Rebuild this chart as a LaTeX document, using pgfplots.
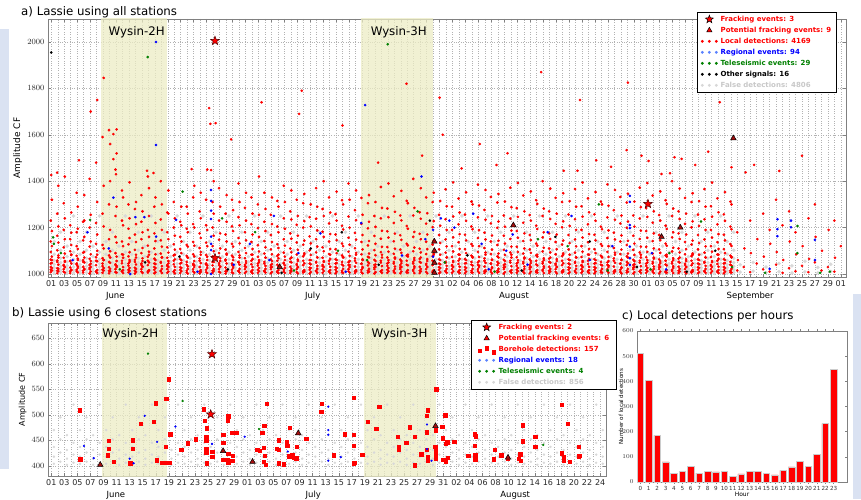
\documentclass[border=0pt]{standalone}
\usepackage{pgfplots}
\pgfplotsset{compat=1.18}
\usepackage{pgfplotstable}
\usepackage{fontspec}
\setmainfont{DejaVu Sans}
\setsansfont{DejaVu Sans}
\definecolor{shade}{RGB}{236,236,196}
\definecolor{fdet}{RGB}{216,216,216}
\definecolor{fdtext}{RGB}{200,200,200}
\definecolor{tri}{RGB}{165,15,15}
\definecolor{bgblue}{RGB}{218,226,242}
\definecolor{ltblue}{RGB}{90,130,255}
\definecolor{dgreen}{RGB}{0,128,0}

\pgfdeclareplotmark{fstar}{%
  \pgfpathmoveto{\pgfpointpolar{90}{\pgfplotmarksize}}%
  \pgfpathlineto{\pgfpointpolar{126}{0.42\pgfplotmarksize}}%
  \pgfpathlineto{\pgfpointpolar{162}{\pgfplotmarksize}}%
  \pgfpathlineto{\pgfpointpolar{198}{0.42\pgfplotmarksize}}%
  \pgfpathlineto{\pgfpointpolar{234}{\pgfplotmarksize}}%
  \pgfpathlineto{\pgfpointpolar{270}{0.42\pgfplotmarksize}}%
  \pgfpathlineto{\pgfpointpolar{306}{\pgfplotmarksize}}%
  \pgfpathlineto{\pgfpointpolar{342}{0.42\pgfplotmarksize}}%
  \pgfpathlineto{\pgfpointpolar{18}{\pgfplotmarksize}}%
  \pgfpathlineto{\pgfpointpolar{54}{0.42\pgfplotmarksize}}%
  \pgfpathclose\pgfusepathqfillstroke}

\pgfplotsset{
  base/.style={scale only axis, axis line style={black!50}, tick align=inside,
    tick style={black!50, thin}, major tick length=3pt, minor tick length=1.5pt,
    tick label style={font=\fontsize{8}{9}\selectfont, text=black!85},
    y tick label style={/pgf/number format/set thousands separator={}},
    grid style={dotted, black!30}, clip mode=individual},
  dots/.style={only marks, mark=*, mark size=#1, forget plot},
  threedots/.style={legend image code/.code={
    \fill[#1] (1.5pt,0pt) circle (1.1pt);
    \fill[#1] (8.5pt,0pt) circle (1.1pt);
    \fill[#1] (15.5pt,0pt) circle (1.1pt);}},
  legstyle/.style={legend style={draw=black, line width=0.6pt, fill=white,
    font=\fontsize{7}{8}\selectfont\bfseries, cells={anchor=west}, row sep=0pt,
    column sep=1.5pt, inner xsep=4pt, inner ysep=1.5pt,
    nodes={inner sep=1.4pt, text height=6.3pt, text depth=1.9pt}}},
}

% ---------------- panel a data ----------------
\pgfplotstableread{
x1 x2 a b c d e f g h i j k l m n o p
-0.07 0.10 1008 1030 1062 1095 1140 1230 1018 1045 1015 1048 1075 1120 1185 1320 1026 1060
0.93 1.10 1003 1025 1058 1102 1165 1260 1014 1052 1012 1040 1080 1135 1205 1380 1022 1071
1.93 2.10 1010 1036 1070 1115 1190 1305 1021 1039 1006 1052 1088 1150 1240 1420 1030 1056
2.93 3.10 1004 1028 1055 1098 1150 1210 1012 1057 1018 1045 1082 1125 1178 1265 1017 1083
3.93 4.10 1012 1040 1078 1120 1180 1350 1018 1045 1007 1033 1066 1108 1195 1290 1026 1060
4.93 5.10 1006 1031 1060 1092 1145 1225 1014 1052 1020 1050 1095 1160 1230 1340 1022 1071
5.93 6.10 1002 1026 1065 1118 1200 1410 1021 1039 1011 1044 1085 1140 1255 1700 1030 1056
6.93 7.10 1009 1038 1072 1130 1220 1480 1012 1057 1004 1055 1100 1170 1310 1750 1017 1083
7.93 8.10 1005 1034 1068 1125 1260 1590 1018 1045 1015 1060 1110 1205 1380 1845 1026 1060
8.93 9.10 1003 1029 1080 1150 1300 1620 1014 1052 1012 1048 1098 1190 1400 1560 1022 1071
9.93 10.10 1008 1042 1090 1160 1250 1450 1021 1039 1006 1035 1075 1135 1290 1520 1030 1056
10.93 11.10 1011 1046 1085 1140 1230 1360 1012 1057 1004 1030 1070 1120 1210 1330 1017 1083
11.93 12.10 1007 1036 1076 1128 1195 1300 1018 1045 1013 1052 1094 1155 1240 1395 1026 1060
12.93 13.10 1002 1027 1061 1104 1170 1280 1014 1052 1009 1041 1083 1138 1215 1310 1022 1071
13.93 14.10 1010 1045 1090 1150 1225 1340 1021 1039 1005 1032 1068 1112 1180 1270 1030 1056
14.93 15.10 1006 1038 1074 1122 1190 1420 1012 1057 1014 1050 1096 1160 1250 1370 1017 1083
15.93 16.10 1003 1030 1066 1110 1175 1290 1018 1045 1008 1043 1085 1142 1220 1330 1026 1060
16.93 17.10 1012 1048 1088 1145 1235 1400 1014 1052 1004 1034 1072 1118 1190 1300 1022 1071
17.93 18.10 1005 1035 1070 1115 1180 1265 1021 1039 1010 1046 1092 1150 1260 1360 1030 1056
18.93 19.10 1009 1042 1080 1128 1200 1310 1012 1057 1003 1031 1063 1105 1165 1240 1017 1083
19.93 20.10 1004 1029 1064 1108 1160 1225 1018 1045 1012 1048 1090 1140 1210 1290 1026 1060
20.93 21.10 1007 1040 1078 1125 1195 1290 1014 1052 1002 1033 1070 1118 1180 1260 1022 1071
21.93 22.10 1011 1044 1085 1138 1215 1330 1021 1039 1006 1038 1076 1122 1200 1380 1030 1056
22.93 23.10 1003 1030 1066 1112 1175 1270 1012 1057 1009 1047 1095 1155 1240 1350 1017 1083
23.93 24.10 1008 1041 1082 1135 1210 1320 1018 1045 1004 1036 1074 1120 1190 1450 1026 1060
24.93 25.10 1005 1037 1075 1120 1200 1310 1014 1052 1013 1052 1098 1165 1260 1400 1022 1071
25.93 26.10 1010 1046 1090 1148 1230 1370 1021 1039 1006 1032 1068 1110 1175 1290 1030 1056
26.93 27.10 1002 1028 1062 1105 1170 1260 1012 1057 1011 1045 1088 1140 1225 1340 1017 1083
27.93 28.10 1007 1039 1079 1130 1205 1320 1018 1045 1004 1034 1072 1118 1185 1275 1026 1060
28.93 29.10 1012 1050 1095 1155 1245 1390 1014 1052 1006 1040 1080 1132 1210 1310 1022 1071
29.93 30.10 1004 1033 1068 1112 1180 1285 1021 1039 1010 1047 1090 1145 1230 1350 1030 1056
30.93 31.10 1008 1042 1083 1138 1215 1330 1012 1057 1003 1030 1064 1108 1170 1260 1017 1083
31.93 32.10 1005 1036 1074 1124 1198 1300 1018 1045 1012 1051 1097 1160 1255 1420 1026 1060
32.93 33.10 1010 1045 1088 1142 1225 1350 1014 1052 1006 1035 1070 1115 1185 1280 1022 1071
33.93 34.10 1003 1029 1063 1106 1168 1255 1021 1039 1009 1043 1085 1138 1215 1330 1030 1056
34.93 35.10 1007 1040 1078 1128 1205 1315 1012 1057 1004 1033 1068 1112 1180 1290 1017 1083
35.93 36.10 1011 1048 1092 1150 1240 1380 1018 1045 1005 1037 1075 1122 1195 1310 1026 1060
36.93 37.10 1004 1031 1066 1110 1175 1270 1014 1052 1012 1050 1094 1152 1235 1360 1022 1071
37.93 38.10 1008 1043 1084 1136 1212 1320 1021 1039 1003 1029 1062 1104 1165 1250 1030 1056
38.93 39.10 1006 1038 1076 1126 1200 1305 1012 1057 1010 1046 1089 1144 1228 1345 1017 1083
39.93 40.10 1002 1027 1060 1102 1162 1245 1018 1045 1008 1042 1082 1132 1205 1300 1026 1060
40.93 41.10 1011 1049 1093 1150 1238 1370 1014 1052 1005 1035 1072 1118 1188 1290 1022 1071
41.93 42.10 1005 1034 1070 1115 1182 1280 1021 1039 1013 1052 1098 1160 1250 1400 1030 1056
42.93 43.10 1009 1044 1086 1140 1218 1330 1012 1057 1004 1031 1065 1108 1172 1265 1017 1083
43.93 44.10 1003 1030 1064 1107 1170 1258 1018 1045 1010 1047 1090 1146 1230 1355 1026 1060
44.93 45.10 1007 1041 1080 1131 1208 1318 1014 1052 1005 1036 1073 1120 1192 1300 1022 1071
45.93 46.10 1012 1051 1096 1156 1248 1390 1021 1039 1006 1039 1078 1126 1200 1320 1030 1056
46.93 47.10 1004 1032 1067 1111 1177 1275 1012 1057 1011 1048 1091 1148 1232 1360 1017 1083
47.93 48.10 1008 1043 1085 1138 1216 1328 1018 1045 1003 1030 1063 1106 1168 1255 1026 1060
48.93 49.10 1006 1037 1074 1123 1197 1305 1014 1052 1010 1046 1088 1142 1225 1340 1022 1071
49.93 50.10 1002 1028 1061 1103 1164 1250 1021 1039 1008 1041 1081 1130 1203 1310 1030 1056
50.93 51.10 1011 1049 1094 1152 1240 1375 1012 1057 1005 1034 1071 1117 1186 1285 1017 1083
51.93 52.10 1005 1035 1071 1116 1184 1282 1018 1045 1012 1050 1096 1157 1245 1390 1026 1060
52.93 53.10 1009 1045 1087 1141 1220 1335 1014 1052 1004 1032 1066 1109 1174 1268 1022 1071
53.93 54.10 1003 1029 1062 1105 1167 1252 1021 1039 1010 1047 1091 1147 1231 1358 1030 1056
54.93 55.10 1007 1040 1079 1130 1207 1315 1012 1057 1006 1037 1075 1123 1195 1305 1017 1083
55.93 56.10 1013 1052 1098 1160 1252 1410 1018 1045 1004 1033 1069 1114 1181 1285 1026 1060
56.93 57.10 1004 1031 1065 1109 1173 1266 1014 1052 1011 1049 1093 1150 1238 1370 1022 1071
57.93 58.10 1009 1044 1086 1139 1217 1330 1021 1039 1003 1030 1064 1107 1170 1262 1030 1056
58.93 59.10 1006 1038 1077 1127 1202 1310 1012 1057 1010 1046 1089 1144 1228 1350 1017 1083
59.93 60.10 1003 1029 1063 1106 1168 1255 1018 1045 1008 1042 1083 1134 1208 1315 1026 1060
60.93 61.10 1010 1048 1092 1149 1236 1365 1014 1052 1005 1035 1072 1119 1190 1292 1022 1071
61.93 62.10 1005 1036 1073 1120 1190 1290 1021 1039 1012 1051 1097 1158 1248 1395 1030 1056
62.93 63.10 1008 1043 1084 1137 1214 1325 1012 1057 1004 1031 1065 1108 1172 1265 1017 1083
63.93 64.10 1003 1030 1064 1107 1169 1256 1018 1045 1010 1047 1090 1145 1229 1352 1026 1060
64.93 65.10 1007 1040 1079 1129 1205 1312 1014 1052 1006 1037 1074 1121 1193 1300 1022 1071
65.93 66.10 1012 1050 1095 1155 1244 1385 1021 1039 1005 1036 1073 1120 1189 1295 1030 1056
66.93 67.10 1004 1032 1067 1112 1178 1276 1012 1057 1011 1048 1092 1149 1234 1362 1017 1083
67.93 68.10 1009 1044 1086 1140 1218 1332 1018 1045 1003 1029 1062 1105 1166 1250 1026 1060
68.93 69.10 1006 1038 1076 1125 1199 1308 1014 1052 1010 1046 1088 1143 1226 1345 1022 1071
69.93 70.10 1002 1028 1061 1104 1165 1252 1021 1039 1008 1042 1082 1131 1204 1312 1030 1056
70.93 71.10 1011 1049 1093 1151 1239 1372 1012 1057 1005 1034 1071 1118 1187 1288 1017 1083
71.93 72.10 1005 1035 1072 1117 1185 1284 1018 1045 1012 1050 1095 1156 1246 1392 1026 1060
72.93 73.10 1009 1045 1088 1142 1221 1338 1014 1052 1004 1032 1066 1110 1175 1270 1022 1071
73.93 74.10 1003 1029 1063 1106 1168 1254 1021 1039 1010 1047 1091 1146 1230 1356 1030 1056
74.93 75.10 1007 1041 1080 1131 1208 1318 1012 1057 1006 1037 1075 1122 1194 1302 1017 1083
75.93 76.10 1013 1052 1097 1158 1250 1400 1018 1045 1004 1033 1068 1113 1180 1282 1026 1060
76.93 77.10 1004 1031 1066 1110 1175 1270 1014 1052 1011 1049 1093 1151 1237 1368 1022 1071
77.93 78.10 1009 1044 1085 1138 1216 1328 1021 1039 1003 1030 1064 1107 1170 1260 1030 1056
78.93 79.10 1006 1038 1077 1127 1201 1310 1012 1057 1010 1046 1089 1144 1227 1348 1017 1083
79.93 80.10 1003 1029 1063 1106 1168 1256 1018 1045 1008 1042 1083 1133 1207 1314 1026 1060
80.93 81.10 1010 1048 1092 1149 1236 1366 1014 1052 1005 1035 1072 1119 1190 1290 1022 1071
81.93 82.10 1005 1036 1073 1120 1190 1292 1021 1039 1012 1051 1096 1157 1247 1394 1030 1056
82.93 83.10 1008 1043 1084 1137 1214 1326 1012 1057 1004 1031 1065 1108 1172 1266 1017 1083
83.93 84.10 1003 1030 1064 1107 1169 1257 1018 1045 1010 1047 1090 1145 1229 1353 1026 1060
84.93 85.10 1007 1040 1079 1129 1204 1312 1014 1052 1006 1037 1074 1121 1193 1300 1022 1071
85.93 86.10 1012 1050 1095 1155 1244 1386 1021 1039 1005 1036 1073 1120 1188 1294 1030 1056
86.93 87.10 1004 1032 1067 1112 1178 1275 1012 1057 1011 1048 1092 1149 1234 1362 1017 1083
87.93 88.10 1009 1044 1086 1140 1218 1332 1018 1045 1003 1029 1062 1105 1166 1252 1026 1060
88.93 89.10 1006 1038 1076 1125 1199 1308 1014 1052 1010 1046 1088 1143 1226 1346 1022 1071
89.93 90.10 1002 1028 1061 1104 1165 1252 1021 1039 1008 1042 1082 1131 1204 1312 1030 1056
90.93 91.10 1011 1049 1093 1151 1239 1372 1012 1057 1005 1034 1071 1118 1187 1288 1017 1083
91.93 92.10 1005 1035 1072 1117 1185 1284 1018 1045 1012 1050 1095 1156 1246 1392 1026 1060
92.93 93.10 1009 1045 1088 1142 1221 1338 1014 1052 1004 1032 1066 1110 1175 1270 1022 1071
93.93 94.10 1003 1029 1063 1106 1168 1254 1021 1039 1010 1047 1091 1146 1230 1356 1030 1056
94.93 95.10 1007 1041 1080 1131 1208 1318 1012 1057 1006 1037 1075 1122 1194 1302 1017 1083
95.93 96.10 1013 1052 1097 1158 1250 1400 1018 1045 1004 1033 1068 1113 1180 1282 1026 1060
96.93 97.10 1004 1031 1066 1110 1175 1270 1014 1052 1011 1049 1093 1151 1237 1368 1022 1071
97.93 98.10 1009 1044 1085 1138 1216 1328 1021 1039 1003 1030 1064 1107 1170 1260 1030 1056
98.93 99.10 1006 1038 1077 1127 1201 1310 1012 1057 1010 1046 1089 1144 1227 1348 1017 1083
99.93 100.10 1003 1029 1063 1106 1168 1256 1018 1045 1008 1042 1083 1133 1207 1314 1026 1060
100.93 101.10 1010 1048 1092 1149 1236 1366 1014 1052 1005 1035 1072 1119 1190 1290 1022 1071
101.93 102.10 1005 1036 1073 1120 1190 1292 1021 1039 1012 1051 1096 1157 1247 1394 1030 1056
102.93 103.10 1008 1043 1084 1137 1214 1326 1012 1057 1004 1031 1065 1108 1172 1266 1017 1083
103.93 104.10 1003 1030 1064 1107 1169 1257 1018 1045 1010 1047 1090 1145 1229 1353 1026 1060
104.93 105.10 1007 1040 1079 1129 1204 1312 1014 1052 1006 1037 1074 1121 1193 1300 1022 1071
}\redA

\pgfplotstableread{
x y
106.0 1015
106.1 1060
106.0 1180
107.0 1030
107.1 1110
107.3 1438
108.0 1008
108.1 1090
108.0 1230
108.6 1470
109.0 1045
109.1 1150
110.0 1020
110.1 1075
110.0 1260
111.0 1010
111.1 1130
111.0 1190
112.0 1040
112.1 1095
112.5 1444
112.0 1320
113.0 1005
113.1 1060
113.0 1210
114.0 1025
114.1 1140
114.0 1270
115.0 1012
115.1 1085
115.0 1180
116.0 1035
116.1 1120
116.0 1510
117.0 1008
117.1 1065
117.0 1240
118.0 1050
118.1 1160
118.0 1300
119.0 1015
119.1 1100
120.0 1030
120.1 1190
121.0 1010
121.1 1070
121.0 1230
122.0 1120
9.6 1495
10.0 1430
24.6 1647
24.7 1448
14.8 1445
15.8 1435
21.7 1452
0.9 1437
0.0 1427
88.9 1534
91.2 1510
92.3 1487
96.3 1503
97.4 1496
101.5 1527
79.2 1445
81.3 1445
105.1 1460
94.3 1431
95.6 1434
24.4 1715
25.4 1650
32.5 1740
38.7 1790
38.3 1690
54.9 1820
60.0 1760
75.7 1870
81.7 1750
89.1 1825
103.3 1740
60.5 1600
66.2 1560
45.0 1640
70.5 1520
27.8 1580
4.3 1490
10.1 1623
9.6 1603
50.5 1480
57.3 1510
63.4 1455
68.8 1470
84.2 1490
86.5 1462
99.5 1470
}\redB

\pgfplotstableread{
x a b c d e f g
0.45 1003 1014 1027 1041 1058 1085 1140
1.45 1006 1018 1033 1049 1068 1102 1180
2.45 1002 1011 1022 1036 1052 1075 1120
3.45 1005 1016 1030 1045 1063 1094 1250
4.45 1003 1014 1027 1041 1058 1085 1140
5.45 1006 1018 1033 1049 1068 1102 1180
6.45 1002 1011 1022 1036 1052 1075 1120
7.45 1005 1016 1030 1045 1063 1094 1250
8.45 1003 1014 1027 1041 1058 1085 1140
9.45 1006 1018 1033 1049 1068 1102 1180
10.45 1002 1011 1022 1036 1052 1075 1120
11.45 1005 1016 1030 1045 1063 1094 1250
12.45 1003 1014 1027 1041 1058 1085 1140
13.45 1006 1018 1033 1049 1068 1102 1180
14.45 1002 1011 1022 1036 1052 1075 1120
15.45 1005 1016 1030 1045 1063 1094 1250
16.45 1003 1014 1027 1041 1058 1085 1140
17.45 1006 1018 1033 1049 1068 1102 1180
18.45 1002 1011 1022 1036 1052 1075 1120
19.45 1005 1016 1030 1045 1063 1094 1250
20.45 1003 1014 1027 1041 1058 1085 1140
21.45 1006 1018 1033 1049 1068 1102 1180
22.45 1002 1011 1022 1036 1052 1075 1120
23.45 1005 1016 1030 1045 1063 1094 1250
24.45 1003 1014 1027 1041 1058 1085 1140
25.45 1006 1018 1033 1049 1068 1102 1180
26.45 1002 1011 1022 1036 1052 1075 1120
27.45 1005 1016 1030 1045 1063 1094 1250
28.45 1003 1014 1027 1041 1058 1085 1140
29.45 1006 1018 1033 1049 1068 1102 1180
30.45 1002 1011 1022 1036 1052 1075 1120
31.45 1005 1016 1030 1045 1063 1094 1250
32.45 1003 1014 1027 1041 1058 1085 1140
33.45 1006 1018 1033 1049 1068 1102 1180
34.45 1002 1011 1022 1036 1052 1075 1120
35.45 1005 1016 1030 1045 1063 1094 1250
36.45 1003 1014 1027 1041 1058 1085 1140
37.45 1006 1018 1033 1049 1068 1102 1180
38.45 1002 1011 1022 1036 1052 1075 1120
39.45 1005 1016 1030 1045 1063 1094 1250
40.45 1003 1014 1027 1041 1058 1085 1140
41.45 1006 1018 1033 1049 1068 1102 1180
42.45 1002 1011 1022 1036 1052 1075 1120
43.45 1005 1016 1030 1045 1063 1094 1250
44.45 1003 1014 1027 1041 1058 1085 1140
45.45 1006 1018 1033 1049 1068 1102 1180
46.45 1002 1011 1022 1036 1052 1075 1120
47.45 1005 1016 1030 1045 1063 1094 1250
48.45 1003 1014 1027 1041 1058 1085 1140
49.45 1006 1018 1033 1049 1068 1102 1180
50.45 1002 1011 1022 1036 1052 1075 1120
51.45 1005 1016 1030 1045 1063 1094 1250
52.45 1003 1014 1027 1041 1058 1085 1140
53.45 1006 1018 1033 1049 1068 1102 1180
54.45 1002 1011 1022 1036 1052 1075 1120
55.45 1005 1016 1030 1045 1063 1094 1250
56.45 1003 1014 1027 1041 1058 1085 1140
57.45 1006 1018 1033 1049 1068 1102 1180
58.45 1002 1011 1022 1036 1052 1075 1120
59.45 1005 1016 1030 1045 1063 1094 1250
60.45 1003 1014 1027 1041 1058 1085 1140
61.45 1006 1018 1033 1049 1068 1102 1180
62.45 1002 1011 1022 1036 1052 1075 1120
63.45 1005 1016 1030 1045 1063 1094 1250
64.45 1003 1014 1027 1041 1058 1085 1140
65.45 1006 1018 1033 1049 1068 1102 1180
66.45 1002 1011 1022 1036 1052 1075 1120
67.45 1005 1016 1030 1045 1063 1094 1250
68.45 1003 1014 1027 1041 1058 1085 1140
69.45 1006 1018 1033 1049 1068 1102 1180
70.45 1002 1011 1022 1036 1052 1075 1120
71.45 1005 1016 1030 1045 1063 1094 1250
72.45 1003 1014 1027 1041 1058 1085 1140
73.45 1006 1018 1033 1049 1068 1102 1180
74.45 1002 1011 1022 1036 1052 1075 1120
75.45 1005 1016 1030 1045 1063 1094 1250
76.45 1003 1014 1027 1041 1058 1085 1140
77.45 1006 1018 1033 1049 1068 1102 1180
78.45 1002 1011 1022 1036 1052 1075 1120
79.45 1005 1016 1030 1045 1063 1094 1250
80.45 1003 1014 1027 1041 1058 1085 1140
81.45 1006 1018 1033 1049 1068 1102 1180
82.45 1002 1011 1022 1036 1052 1075 1120
83.45 1005 1016 1030 1045 1063 1094 1250
84.45 1003 1014 1027 1041 1058 1085 1140
85.45 1006 1018 1033 1049 1068 1102 1180
86.45 1002 1011 1022 1036 1052 1075 1120
87.45 1005 1016 1030 1045 1063 1094 1250
88.45 1003 1014 1027 1041 1058 1085 1140
89.45 1006 1018 1033 1049 1068 1102 1180
90.45 1002 1011 1022 1036 1052 1075 1120
91.45 1005 1016 1030 1045 1063 1094 1250
92.45 1003 1014 1027 1041 1058 1085 1140
93.45 1006 1018 1033 1049 1068 1102 1180
94.45 1002 1011 1022 1036 1052 1075 1120
95.45 1005 1016 1030 1045 1063 1094 1250
96.45 1003 1014 1027 1041 1058 1085 1140
97.45 1006 1018 1033 1049 1068 1102 1180
98.45 1002 1011 1022 1036 1052 1075 1120
99.45 1005 1016 1030 1045 1063 1094 1250
100.45 1003 1014 1027 1041 1058 1085 1140
101.45 1006 1018 1033 1049 1068 1102 1180
102.45 1002 1011 1022 1036 1052 1075 1120
103.45 1005 1016 1030 1045 1063 1094 1250
104.45 1003 1014 1027 1041 1058 1085 1140
105.45 1006 1018 1033 1049 1068 1102 1180
106.45 1008 1040 nan nan nan nan nan
108.45 1012 1050 nan nan nan nan nan
110.45 1006 1030 nan nan nan nan nan
112.45 1010 1045 nan nan nan nan nan
114.45 1004 1035 nan nan nan nan nan
116.45 1009 1055 nan nan nan nan nan
118.45 1005 1028 nan nan nan nan nan
120.45 1011 1042 nan nan nan nan nan
}\greyA

\pgfplotstableread{
x y
16.2 2000
16.2 1556
9.6 1329
14.4 1245
16.2 1161
19.3 1233
24.7 1362
24.7 1315
24.7 1273
24.7 1237
24.7 1161
24.7 1130
24.7 1103
24.7 1000
8.9 1110
12.2 1000
13.0 1245
89.4 1337
89.4 1311
89.4 1211
89.4 1198
89.4 1118
89.4 1068
89.4 1039
112.2 1236
112.2 1193
112.2 1163
114.3 1230
114.3 1201
118.0 1147
118.0 1060
111.0 1022
57.8 1150
54.2 1080
61.5 1230
62.3 1200
66.5 1130
70.3 1100
73.6 1040
76.7 1180
80.4 1250
83.2 1060
86.7 1120
45.5 1010
47.9 1220
41.6 1175
38.2 1090
34.4 1250
33.7 1060
30.7 1130
28.2 1040
22.6 1010
5.6 1180
3.3 1060
48.5 1728
57.2 1420
67.6 1020
71.3 1170
92.8 1090
95.0 1020
59.0 1190
59.0 1075
60.2 1240
65.2 1260
}\blueA

\pgfplotstableread{
x y
14.9 1935
52.0 1990
0.3 1158
0.4 1130
6.0 1233
20.3 1355
84.6 1300
100.4 1226
115.3 1207
115.3 1090
118.8 1005
37.5 1015
44.3 1100
60.8 1050
68.5 1010
75.2 1150
92.6 1020
95.5 1090
105.2 1030
110.3 1005
120.3 1010
10.6 1020
26.4 1240
31.5 1180
56.6 1270
79.8 1120
1.5 1090
48.8 1060
86.0 1015
}\greenA

\pgfplotstableread{
x y
0.0 1955
83.2 1140
14.5 1050
27.3 1020
40.1 1110
50.6 1040
58.5 1230
35.6 1005
64.3 1080
72.7 1015
77.9 1160
90.5 1030
98.2 1010
102.6 1100
19.8 1075
44.9 1180
}\blackA

% ---------------- panel b data ----------------
\pgfplotstableread{
x y
4.33 509
4.44 413
8.77 449
8.77 433
8.60 421
9.53 408
12.10 405
12.44 450
12.44 433
13.72 482
15.65 486
15.96 523
16.17 411
16.90 406
17.60 531
17.50 437
17.45 406
17.95 570
18.20 462
18.10 406
19.90 431
20.90 444
22.10 452
23.30 511
23.45 488
23.80 474
23.70 457
23.70 450
23.70 433
23.70 426
23.80 405
24.60 428
24.60 418
26.30 461
26.30 445
26.30 412
27.10 497
27.00 488
27.10 424
27.00 412
27.10 406
27.70 465
27.80 420
27.70 410
28.40 465
31.50 432
31.90 430
32.30 465
32.50 435
32.60 479
32.70 420
32.50 408
32.80 402
33.00 522
34.80 450
34.50 433
34.80 432
34.80 405
35.60 403
36.05 446
36.10 440
36.50 475
36.40 419
36.90 421
37.10 416
37.50 415
37.60 438
39.00 453
41.40 522
41.30 506
43.25 421
44.90 462
46.25 533
46.25 461
46.25 440
46.35 406
46.25 404
47.60 422
48.45 486
49.70 473
50.20 516
53.00 457
53.20 438
53.20 432
54.30 445
54.90 476
55.60 457
55.60 401
56.60 423
57.50 498
57.60 509
57.50 466
57.50 431
57.60 417
57.60 412
57.60 410
58.90 550
58.80 470
58.75 438
58.80 430
58.80 426
58.80 420
58.80 415
59.80 477
59.90 454
60.30 499
60.40 443
60.60 446
60.00 412
60.30 412
60.40 408
60.70 416
61.65 447
63.80 420
64.80 462
65.00 458
64.80 440
64.90 422
65.00 416
64.90 413
67.70 413
67.90 431
68.85 421
69.90 414
71.75 423
71.50 414
71.80 410
72.15 480
72.15 448
74.05 457
74.05 438
78.10 520
78.10 425
78.40 417
78.40 410
79.00 483
79.30 408
80.70 438
80.70 419
80.90 420
}\boreB

\pgfplotstableread{
x a b c d
0.4 404 418 437 470
1.4 408 426 452 495
2.4 402 414 431 460
3.4 406 422 445 520
4.4 404 418 437 470
5.4 408 426 452 495
6.4 402 414 431 460
7.4 406 422 445 520
8.4 404 418 437 470
9.4 408 426 452 495
10.4 402 414 431 460
11.4 406 422 445 520
12.4 404 418 437 470
13.4 408 426 452 495
14.4 402 414 431 460
15.4 406 422 445 520
16.4 404 418 437 470
17.4 408 426 452 495
18.4 402 414 431 460
19.4 406 422 445 520
20.4 404 418 437 470
21.4 408 426 452 495
22.4 402 414 431 460
23.4 406 422 445 520
24.4 404 418 437 470
25.4 408 426 452 495
26.4 402 414 431 460
27.4 406 422 445 520
28.4 404 418 437 470
29.4 408 426 452 495
30.4 402 414 431 460
31.4 406 422 445 520
32.4 404 418 437 470
33.4 408 426 452 495
34.4 402 414 431 460
35.4 406 422 445 520
36.4 404 418 437 470
37.4 408 426 452 495
38.4 402 414 431 460
39.4 406 422 445 520
40.4 404 418 437 470
41.4 408 426 452 495
42.4 402 414 431 460
43.4 406 422 445 520
44.4 404 418 437 470
45.4 408 426 452 495
46.4 402 414 431 460
47.4 406 422 445 520
48.4 404 418 437 470
49.4 408 426 452 495
50.4 402 414 431 460
51.4 406 422 445 520
52.4 404 418 437 470
53.4 408 426 452 495
54.4 402 414 431 460
55.4 406 422 445 520
56.4 404 418 437 470
57.4 408 426 452 495
58.4 402 414 431 460
59.4 406 422 445 520
60.4 404 418 437 470
61.4 408 426 452 495
62.4 402 414 431 460
63.4 406 422 445 520
64.4 404 418 437 470
65.4 408 426 452 495
66.4 402 414 431 460
67.4 406 422 445 520
68.4 404 418 437 470
69.4 408 426 452 495
70.4 402 414 431 460
71.4 406 422 445 520
72.4 404 418 437 470
73.4 408 426 452 495
74.4 402 414 431 460
75.4 406 422 445 520
76.4 404 418 437 470
77.4 408 426 452 495
78.4 402 414 431 460
79.4 406 422 445 520
80.4 404 418 437 470
81.4 408 426 452 495
82.4 402 414 431 460
83.4 406 422 445 520
84.4 404 418 437 470
}\greyB

\begin{document}
\begin{tikzpicture}[x=1pt,y=1pt]
\useasboundingbox (0,0) rectangle (861,499);
% decorative slide background
\fill[bgblue] (0,30) rectangle (9,470);
\fill[bgblue] (853,0) rectangle (861,205);

% titles
\node[anchor=west, font=\fontsize{11.8}{14}\selectfont, inner sep=0pt] at (21,487) {a) Lassie using all stations};
\node[anchor=west, font=\fontsize{11.8}{14}\selectfont, inner sep=0pt] at (12,185.5) {b) Lassie using 6 closest stations};
\node[anchor=west, font=\fontsize{11.8}{14}\selectfont, inner sep=0pt] at (622,182.5) {c) Local detections per hours};

% ================= panel a =================
\begin{axis}[base, legstyle, at={(48pt,480pt)}, anchor=north west, width=798pt, height=258pt,
  xmin=-0.5, xmax=122.8, ymin=987, ymax=2099,
  xtick={0,2,...,122},
  xticklabels={01,03,05,07,09,11,13,15,17,19,21,23,25,27,29,01,03,05,07,09,11,13,15,17,19,21,23,25,27,29,31,02,04,06,08,10,12,14,16,18,20,22,24,26,28,30,01,03,05,07,09,11,13,15,17,19,21,23,25,27,29,01},
  minor x tick num=1, xmajorgrids, xminorgrids,
  ytick={1000,1200,...,2000}, ymajorgrids,
  ylabel={Amplitude CF},
  ylabel style={font=\fontsize{9}{10}\selectfont, at={(axis description cs:-0.038,0.5)}, anchor=center},
  legend style={at={(0.9887,1.027)}, anchor=north east}]
\addplot[fill=shade, draw=none, fill opacity=0.75, forget plot] coordinates {(7.65,980) (17.85,980) (17.85,2110) (7.65,2110)} --cycle;
\addplot[fill=shade, draw=none, fill opacity=0.75, forget plot] coordinates {(47.9,980) (58.95,980) (58.95,2110) (47.9,2110)} --cycle;
\node[font=\fontsize{11.8}{14}\selectfont] at (axis cs:13.2,2042) {Wysin-2H};
\node[font=\fontsize{11.8}{14}\selectfont] at (axis cs:53.7,2042) {Wysin-3H};
\pgfplotsinvokeforeach{a,b,c,d,e,f,g}{\addplot[dots=1.6pt, color=fdet] table[x=x,y=#1]{\greyA};}
\pgfplotsinvokeforeach{a,b,c,d,e,f,g,h}{\addplot[dots=1.15pt, color=red] table[x=x1,y=#1]{\redA};}
\pgfplotsinvokeforeach{i,j,k,l,m,n,o,p}{\addplot[dots=1.15pt, color=red] table[x=x2,y=#1]{\redA};}
\addplot[dots=1.1pt, color=red] table[x=x,y=y]{\redB};
\addplot[dots=1.1pt, color=blue] table[x=x,y=y]{\blueA};
\addplot[dots=1.1pt, color=dgreen] table[x=x,y=y]{\greenA};
\addplot[dots=1.1pt, color=black] table[x=x,y=y]{\blackA};
\addplot[only marks, mark=triangle*, mark size=3.2pt, mark options={fill=tri, draw=black, line width=0.5pt}, forget plot] coordinates {(35.3,1030) (59.2,1140) (59.2,1100) (59.2,1048) (59.2,1005) (71.4,1210) (94.3,1160) (97.2,1200) (105.4,1585)};
\addplot[only marks, mark=fstar, mark size=4.6pt, mark options={fill=red, draw=black!70!red, line width=0.5pt}, forget plot] coordinates {(25.3,2005) (25.3,1069) (92.2,1302)};
\node[font=\fontsize{8.5}{10}\selectfont, anchor=north] at (axis cs:9.9,987) [yshift=-12pt] {June};
\node[font=\fontsize{8.5}{10}\selectfont, anchor=north] at (axis cs:40.4,987) [yshift=-12pt] {July};
\node[font=\fontsize{8.5}{10}\selectfont, anchor=north] at (axis cs:71.5,987) [yshift=-12pt] {August};
\node[font=\fontsize{8.5}{10}\selectfont, anchor=north] at (axis cs:108,987) [yshift=-12pt] {September};
\addlegendimage{only marks, mark=fstar, mark size=4.2pt, mark options={fill=red, draw=black, line width=0.5pt}}
\addlegendentry{\textcolor{red}{Fracking events: 3}}
\addlegendimage{only marks, mark=triangle*, mark size=3pt, mark options={fill=red, draw=black, line width=0.5pt}}
\addlegendentry{\textcolor{red}{Potential fracking events: 9}}
\addlegendimage{threedots=red}
\addlegendentry{\textcolor{red}{Local detections: 4169}}
\addlegendimage{threedots=ltblue}
\addlegendentry{\textcolor{blue}{Regional events: 94}}
\addlegendimage{threedots=dgreen}
\addlegendentry{\textcolor{dgreen}{Teleseismic events: 29}}
\addlegendimage{threedots=black}
\addlegendentry{\textcolor{black}{Other signals: 16}}
\addlegendimage{threedots=fdet}
\addlegendentry{\textcolor{fdtext}{False detections: 4806}}
\end{axis}

% ================= panel b =================
\begin{axis}[base, legstyle, at={(48pt,176pt)}, anchor=north west, width=558pt, height=153pt,
  xmin=-0.5, xmax=84.9, ymin=380, ymax=680,
  xtick={0,2,...,84},
  xticklabels={01,03,05,07,09,11,13,15,17,19,21,23,25,27,29,01,03,05,07,09,11,13,15,17,19,21,23,25,27,29,31,02,04,06,08,10,12,14,16,18,20,22,24},
  minor x tick num=1, xmajorgrids, xminorgrids,
  ytick={400,450,...,650}, ymajorgrids,
  ylabel={Amplitude CF},
  ylabel style={font=\fontsize{8}{9}\selectfont, at={(axis description cs:-0.0453,0.5)}, anchor=center},
  legend style={at={(1.0197,1.0196)}, anchor=north east, inner xsep=6pt}]
\addplot[fill=shade, draw=none, fill opacity=0.75, forget plot] coordinates {(7.75,370) (17.7,370) (17.7,690) (7.75,690)} --cycle;
\addplot[fill=shade, draw=none, fill opacity=0.75, forget plot] coordinates {(47.8,370) (58.9,370) (58.9,690) (47.8,690)} --cycle;
\node[font=\fontsize{11.8}{14}\selectfont] at (axis cs:12.1,657) {Wysin-2H};
\node[font=\fontsize{11.8}{14}\selectfont] at (axis cs:53.3,657) {Wysin-3H};
\pgfplotsinvokeforeach{a,b,c,d}{\addplot[dots=1pt, color=fdet] table[x=x,y=#1]{\greyB};}
\addplot[only marks, mark=square*, mark size=1.7pt, color=red, forget plot] table[x=x,y=y]{\boreB};
\addplot[dots=0.9pt, color=blue] coordinates {(5.0,439) (6.5,415) (14.3,498) (12.0,414) (16.2,447) (19.0,477) (24.6,443) (29.6,457) (36.2,428) (42.4,516) (42.4,470) (42.4,461) (42.4,410) (44.3,417) (57.5,481) (57.5,433) (58.2,410) (12.6,405)};
\addplot[dots=0.9pt, color=dgreen] coordinates {(14.8,620) (20.1,527) (31.8,472) (75.3,441)};
\addplot[only marks, mark=triangle*, mark size=3.2pt, mark options={fill=tri, draw=black, line width=0.5pt}, forget plot] coordinates {(7.5,402) (26.3,429) (30.8,408) (37.8,464) (58.8,478) (69.9,416)};
\addplot[only marks, mark=fstar, mark size=4.6pt, mark options={fill=red, draw=black!70!red, line width=0.5pt}, forget plot] coordinates {(24.6,619) (24.4,501)};
\node[font=\fontsize{8.5}{10}\selectfont, anchor=north] at (axis cs:9.9,380) [yshift=-12pt] {June};
\node[font=\fontsize{8.5}{10}\selectfont, anchor=north] at (axis cs:40.1,380) [yshift=-12pt] {July};
\node[font=\fontsize{8.5}{10}\selectfont, anchor=north] at (axis cs:71.0,380) [yshift=-12pt] {August};
\addlegendimage{only marks, mark=fstar, mark size=4.2pt, mark options={fill=red, draw=black, line width=0.5pt}}
\addlegendentry{\textcolor{red}{Fracking events: 2}}
\addlegendimage{only marks, mark=triangle*, mark size=3pt, mark options={fill=red, draw=black, line width=0.5pt}}
\addlegendentry{\textcolor{red}{Potential fracking events: 6}\hspace{14pt}}
\addlegendimage{legend image code/.code={
  \fill[red] (-0.3pt,-3.4pt) rectangle (3.3pt,0.2pt);
  \fill[red] (6.7pt,-0.8pt) rectangle (10.3pt,2.8pt);
  \fill[red] (13.7pt,-4.6pt) rectangle (17.3pt,-1pt);}}
\addlegendentry{\textcolor{red}{Borehole detections: 157}}
\addlegendimage{threedots=ltblue}
\addlegendentry{\textcolor{blue}{Regional events: 18}}
\addlegendimage{threedots=dgreen}
\addlegendentry{\textcolor{dgreen}{Teleseismic events: 4}}
\addlegendimage{threedots=fdet}
\addlegendentry{\textcolor{fdtext}{False detections: 856}}
\end{axis}

% ================= panel c =================
\begin{axis}[base, at={(637pt,168pt)}, anchor=north west, width=210pt, height=151pt,
  xmin=0, xmax=25, ymin=0, ymax=600, ybar, bar width=0.8,
  xtick={0.4,1.4,2.4,3.4,4.4,5.4,6.4,7.4,8.4,9.4,10.4,11.4,12.4,13.4,14.4,15.4,16.4,17.4,18.4,19.4,20.4,21.4,22.4,23.4},
  xticklabels={0,1,2,3,4,5,6,7,8,9,10,11,12,13,14,15,16,17,18,19,20,21,22,23},
  ytick={0,100,...,600},
  tick label style={font=\fontsize{5.6}{6}\selectfont, text=black!80},
  x tick label style={yshift=1.5pt},
  major tick length=2pt,
  xlabel={Hour}, ylabel={Number of local detections},
  xlabel style={font=\fontsize{6}{7}\selectfont, at={(axis description cs:0.5,-0.082)}, anchor=center},
  ylabel style={font=\fontsize{5.6}{7}\selectfont, at={(axis description cs:-0.076,0.5)}, anchor=center}]
\addplot[fill=red, draw=black!20, line width=0.5pt] coordinates {(0.4,510) (1.4,405) (2.4,185) (3.4,80) (4.4,35) (5.4,42) (6.4,63) (7.4,35) (8.4,42) (9.4,40) (10.4,41) (11.4,22) (12.4,32) (13.4,42) (14.4,42) (15.4,35) (16.4,28) (17.4,46) (18.4,60) (19.4,82) (20.4,62) (21.4,110) (22.4,232) (23.4,447)};
\end{axis}
\end{tikzpicture}
\end{document}
